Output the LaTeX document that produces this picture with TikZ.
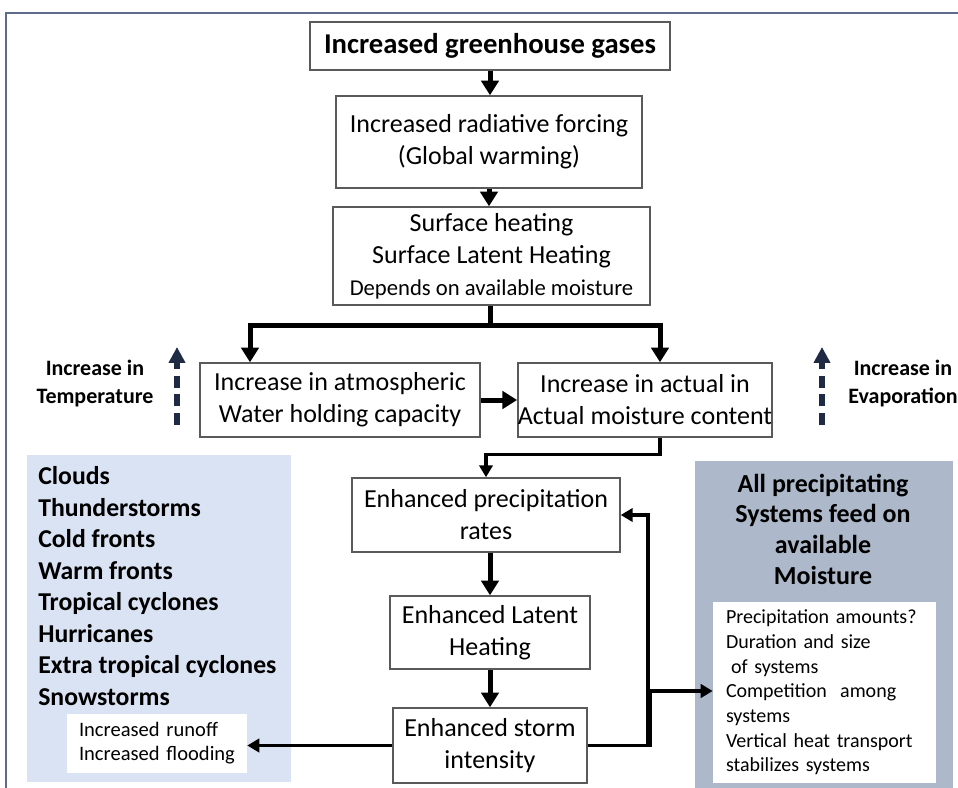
\documentclass[tikz,border=0pt]{standalone}
\usepackage{fontspec}
\setmainfont{Carlito}
\usetikzlibrary{arrows.meta,calc}
\definecolor{framecol}{RGB}{96,106,138}
\definecolor{paleblue}{RGB}{218,227,243}
\definecolor{greyblue}{RGB}{173,185,202}
\definecolor{navy}{RGB}{31,42,68}
\definecolor{boxline}{RGB}{90,90,90}
\begin{document}
\begin{tikzpicture}[x=0.75pt,y=-0.75pt,
  box/.style={draw=boxline,line width=1.1pt,fill=white,align=center,inner sep=0pt,
    font=\fontsize{19.5}{24}\selectfont},
  whitebox/.style={fill=white,align=left,inner ysep=0pt},
  sidelabel/.style={align=center,inner sep=0pt,font=\bfseries\fontsize{16.5}{21}\selectfont},
  bigarrow/.style={line width=3.75pt,-{Triangle[width=13pt,length=11pt]}},
  thinarrow/.style={line width=2.5pt,-{Triangle[width=10pt,length=9pt]}},
  updash/.style={navy,line width=4pt,dash pattern=on 9pt off 5pt,-{Triangle[width=12pt,length=12pt]}}]
\useasboundingbox (0,0) rectangle (958,788);
\draw[framecol,line width=1.5pt] (6,788) -- (6,13) -- (958,13);

% panels
\fill[paleblue] (27,455) rectangle (291,782);
\fill[greyblue] (695,461) rectangle (953,790);

% main chain
\node[box,minimum width=270pt,minimum height=36pt,font=\bfseries\fontsize{21.5}{24}\selectfont] (gases) at (490,46) {Increased greenhouse gases};
\node[box,minimum width=229.5pt,minimum height=69pt] (forcing) at (489,142) {Increased radiative forcing\\(Global warming)};
\node[box,minimum width=237.75pt,minimum height=73.5pt] (heating) at (491.5,256) {Surface heating\\Surface Latent Heating\\{\fontsize{17}{24}\selectfont Depends on available moisture}};
\node[box,minimum width=210pt,minimum height=55.5pt] (capacity) at (340,400) {Increase in atmospheric\\Water holding capacity};
\node[box,minimum width=187.5pt,minimum height=55.5pt] (moisture) at (645,400) {Increase in actual in\\Actual moisture content};
\node[box,minimum width=201pt,minimum height=55.5pt] (precip) at (486,515) {Enhanced precipitation\\rates};
\node[box,minimum width=150pt,minimum height=54.75pt] (latent) at (490,632.5) {Enhanced Latent\\Heating};
\node[box,minimum width=145.5pt,minimum height=56.25pt] (storm) at (490,745.5) {Enhanced storm\\intensity};

% side texts
\node[sidelabel] (temp) at (95,384) {Increase in\\Temperature};
\node[sidelabel] (evap) at (903,384) {Increase in\\Evaporation};
\node[anchor=west,align=left,inner sep=0pt,font=\bfseries\fontsize{19.3}{23.6}\selectfont] (systems) at (38,586)
  {Clouds\\Thunderstorms\\Cold fronts\\Warm fronts\\Tropical cyclones\\Hurricanes\\Extra tropical cyclones\\Snowstorms};
\node[whitebox,minimum height=44.25pt,text width=117pt,inner xsep=9pt,font=\fontsize{15.4}{18}\selectfont] (runoff) at (157,743.5)
  {Increased runoff\\Increased flooding};
\node[align=center,inner sep=0pt,font=\bfseries\fontsize{19.5}{23}\selectfont] (feed) at (823,529)
  {All precipitating\\Systems feed on\\available\\Moisture};
\node[whitebox,minimum height=135.75pt,text width=147.75pt,inner xsep=9.75pt,font=\fontsize{15}{18.5}\selectfont] (factors) at (824.5,692.5)
  {Precipitation amounts?\\Duration and size\\\hspace{0.25em}of systems\\Competition\ \ among\\systems\\Vertical heat transport\\stabilizes systems};

% arrows
\draw[bigarrow] (gases.south) -- (gases.south |- forcing.north);
\draw[bigarrow] (forcing.south) -- (forcing.south |- heating.north);
\coordinate (split) at ($(heating.south)+(-1.5,20)$);
\draw[line width=3.75pt] ($(heating.south)+(-1.5,0)$) -- (split);
\draw[bigarrow] (split) -| ($(capacity.north)+(-90,0)$);
\draw[bigarrow] (split) -| ($(moisture.north)+(15,0)$);
\draw[bigarrow] (capacity) -- (moisture);
\draw[thinarrow] ($(moisture.south)+(15,0)$) |- ($(precip.north)+(0,-23)$) -- (precip.north);
\draw[bigarrow] (precip.south -| latent.north) -- (latent.north);
\draw[bigarrow] (latent) -- (storm);
\draw[thinarrow] (storm.west) -- (storm.west -| runoff.east);
\coordinate (fb) at (648,691);
\draw[thinarrow] (storm.east) -| (fb) |- (precip.east);
\draw[thinarrow] (storm.east) -| ($(fb)+(2.5,0)$) -- (factors.west |- fb);

\coordinate (tfoot) at (177,425);
\coordinate (efoot) at (822,425);
\draw[updash] (tfoot) -- ++(0,-78);
\draw[updash] (efoot) -- ++(0,-78);
\end{tikzpicture}
\end{document}
